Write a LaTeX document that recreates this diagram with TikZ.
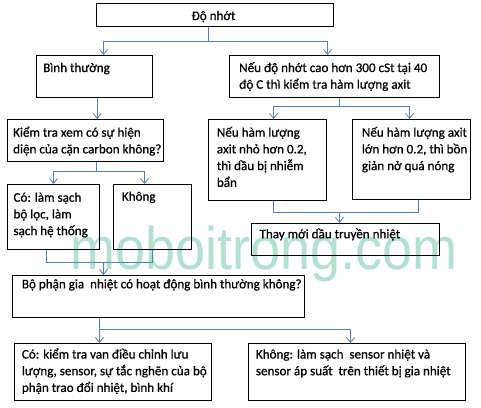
\documentclass[tikz,border=0pt]{standalone}
\usepackage{fontspec}
\setmainfont[FakeBold=0.7]{Carlito}
\newfontfamily\wmfont{Liberation Sans}
\usetikzlibrary{arrows.meta,calc}
\definecolor{conn}{RGB}{79,129,189}
\definecolor{wm}{RGB}{178,226,206}
\newcommand\mkbox[5]{\node[box,anchor=north west,minimum width=#4pt-#2pt,minimum height=#5pt-#3pt] (#1) at (#2,#3) {};}
\newcommand\mktxt[4]{\node[txt] (#1) at (#2,#3) {\parbox[t]{400pt}{\raggedright #4}};}
\begin{document}
\begin{tikzpicture}[x=1pt,y=-1pt,
  box/.style={draw=black,line width=1pt,inner sep=0pt},
  txt/.style={anchor=base west,inner sep=0pt,font=\fontsize{13.1}{16.7}\selectfont},
  line/.style={draw=conn,line width=0.9pt},
  arr/.style={line,-{Straight Barb[length=5pt,width=8pt,line width=0.8pt]}}]
\useasboundingbox[fill=white] (0,0) rectangle (481,407);
% watermark
\node[anchor=base west,inner sep=0pt,text=wm,font=\wmfont\fontsize{60}{60}\selectfont] (wmk) at (70,269) {\scalebox{0.9}[1]{moboitrong.com}};
% boxes
\mkbox{A}{96}{3}{333}{26}
\mkbox{B}{36}{55}{152}{97}
\mkbox{C}{229}{55}{439}{97}
\mkbox{D}{7}{119}{163}{161}
\mkbox{E}{208}{119}{326}{200}
\mkbox{F}{352}{119}{470}{199}
\mkbox{G}{7}{184}{99}{249}
\mkbox{H}{113}{184}{191}{249}
\mkbox{I}{251}{223}{439}{255}
\mkbox{J}{12}{275}{304}{317}
\mkbox{K}{14}{343}{211}{400}
\mkbox{L}{248}{343}{465}{400}
% texts
\node[txt,anchor=base] (tA) at (213.5,20) {Độ nhớt};
\mktxt{tB}{43}{72}{Bình thường}
\mktxt{tC}{239}{72}{Nếu độ nhớt cao hơn 300 cSt tại 40\\độ C thì kiểm tra hàm lượng axit}
\mktxt{tD}{13}{136.7}{Kiểm tra xem có sự hiện\\diện của cặn carbon không?}
\mktxt{tE}{216.7}{136.7}{Nếu hàm lượng\\axit nhỏ hơn 0.2,\\thì dầu bị nhiễm\\bẩn}
\mktxt{tF}{361.7}{136.7}{Nếu hàm lượng axit\\lớn hơn 0.2, thì bồn\\giản nở quá nóng}
\mktxt{tG}{13.3}{201.7}{Có: làm sạch\\bộ lọc, làm\\sạch hệ thống}
\mktxt{tH}{121.7}{200.7}{Không}
\mktxt{tI}{259.3}{238.3}{Thay mới dầu truyền nhiệt}
\mktxt{tJ}{21.7}{288.3}{Bộ phận gia~ nhiệt có hoạt động bình thường không?}
\begin{scope}
\clip (14,343) rectangle (211,393.5);
\mktxt{tK}{21.7}{358.5}{Có: kiểm tra van điều chỉnh lưu\\lượng, sensor, sự tắc nghẽn của bộ\\phận trao đổi nhiệt, bình khí}
\end{scope}
\mktxt{tL}{255.7}{358.5}{Không: làm sạch~ sensor nhiệt và\\sensor áp suất~ trên thiết bị gia nhiệt}
% connectors
\path ([xshift=-6.5pt]A.south) ++(0,14) coordinate (jA);
\draw[line] ([xshift=-6.5pt]A.south) -- (jA);
\draw[arr] (jA) -| ([xshift=9pt]B.north);
\draw[arr] (jA) -| ([xshift=-7pt]C.north);
\draw[arr] ([xshift=2.7pt]B.south) -- ([xshift=11.7pt]D.north);
\path ([xshift=5pt]C.south) ++(0,8) coordinate (jC);
\draw[line] ([xshift=5pt]C.south) -- (jC);
\draw[arr] (jC) -| ([xshift=6pt]E.north);
\draw[arr] (jC) -| ([xshift=-2pt]F.north);
\path ([xshift=11pt]D.south) ++(0,9) coordinate (jD);
\draw[line] ([xshift=11pt]D.south) -- (jD);
\draw[arr] (jD) -| (G.north);
\draw[arr] (jD) -| ([xshift=-8pt]H.north);
\path ([xshift=-6pt]I.north) ++(0,-11) coordinate (jI);
\draw[line] ([xshift=6pt]E.south) |- (jI);
\draw[line] ([xshift=7pt]F.south) |- (jI);
\draw[arr] (jI) -- ([xshift=-6pt]I.north);
\path ([xshift=-55pt]J.north) ++(0,-13) coordinate (jJ);
\draw[line] ([xshift=-7pt]G.south) |- (jJ);
\draw[line] (H.south) |- (jJ);
\draw[arr] (jJ) -- ([xshift=-55pt]J.north);
\path ([xshift=-59pt]J.south) ++(0,11) coordinate (jK);
\draw[arr] ([xshift=-59pt]J.south) -- ([xshift=-13.5pt]K.north);
\draw[arr] (jK) -| ([xshift=-6.5pt]L.north);
\end{tikzpicture}
\end{document}
